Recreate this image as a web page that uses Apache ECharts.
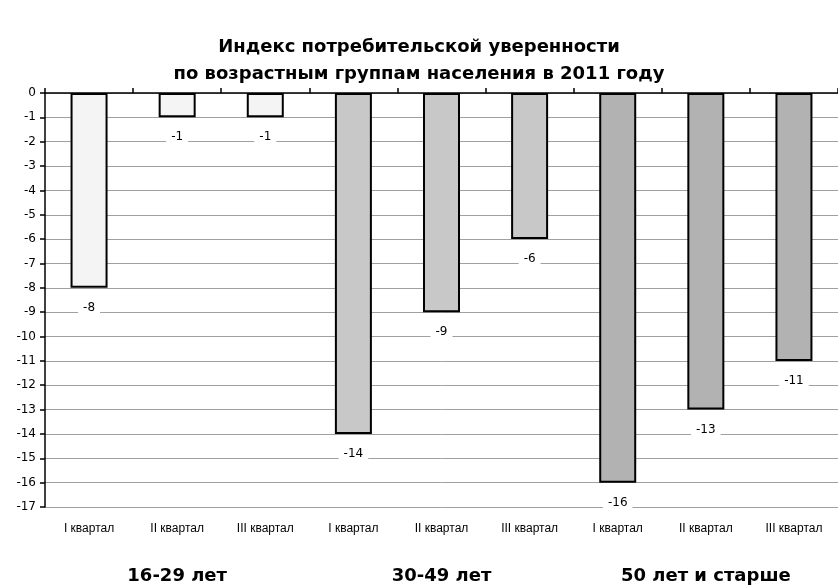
<!DOCTYPE html>
<html><head><meta charset="utf-8">
<script src="https://cdn.jsdelivr.net/npm/echarts@6/dist/echarts.min.js"></script>
<style>html,body{margin:0;padding:0;background:#fff}#c{width:838px;height:585px}</style>
</head><body><div id="c"></div>
<script>
const titleText = 'Индекс потребительской уверенности\nпо возрастным группам населения в 2011 году';
const quarters = ['I квартал','II квартал','III квартал','I квартал','II квартал','III квартал','I квартал','II квартал','III квартал'];
const groups = ['16-29 лет','30-49 лет','50 лет и старше'];
const values = [-8,-1,-1,-14,-9,-6,-16,-13,-11];
const groupOfBar = [0,0,0,1,1,1,2,2,2];
const groupColors = ['#f4f4f4','#c8c8c8','#b2b2b2'];

const chart = echarts.init(document.getElementById('c'));
chart.setOption({
  backgroundColor:'#fff',
  animation:false,
  title:{text:titleText,left:'center',top:29,
    textStyle:{fontFamily:'DejaVu Sans',fontWeight:'bold',fontSize:18,lineHeight:27,color:'#000'}},
  grid:{left:45,right:0,top:93,bottom:77,containLabel:false},
  xAxis:[
    {type:'category',data:quarters,position:'bottom',gridIndex:0,
     axisLine:{show:false},axisTick:{show:false},
     axisLabel:{margin:16,fontFamily:'Liberation Sans',fontSize:12,color:'#000',interval:0}},
    {type:'category',data:quarters,position:'top',gridIndex:0,
     axisLine:{show:true,onZero:false,lineStyle:{color:'#000',width:1.5}},
     axisTick:{show:true,length:5,lineStyle:{color:'#000',width:1.5}},
     axisLabel:{show:false}},
    {type:'category',data:groups,position:'bottom',gridIndex:0,
     axisLine:{show:false},axisTick:{show:false},
     axisLabel:{margin:60,fontFamily:'DejaVu Sans',fontWeight:'bold',fontSize:18,color:'#000',interval:0}}
  ],
  yAxis:{type:'value',min:-17,max:0,interval:1,
    axisLine:{show:true,lineStyle:{color:'#000',width:1.5}},
    axisTick:{show:true,length:5,lineStyle:{color:'#000',width:1.5}},
    axisLabel:{margin:9,fontFamily:'DejaVu Sans',fontSize:12,color:'#000'},
    splitLine:{show:true,lineStyle:{color:'#a0a0a0',width:1}}},
  series:[{
    type:'bar',xAxisIndex:0,barWidth:37,
    data:values.map((v,i)=>({value:v,itemStyle:{color:groupColors[groupOfBar[i]]}})),
    itemStyle:{borderColor:'#000',borderWidth:2},
    label:{show:true,position:'bottom',distance:14,fontFamily:'DejaVu Sans',fontSize:12,color:'#000',
      backgroundColor:'#fff',padding:[0,5]}
  }]
});
</script></body></html>
